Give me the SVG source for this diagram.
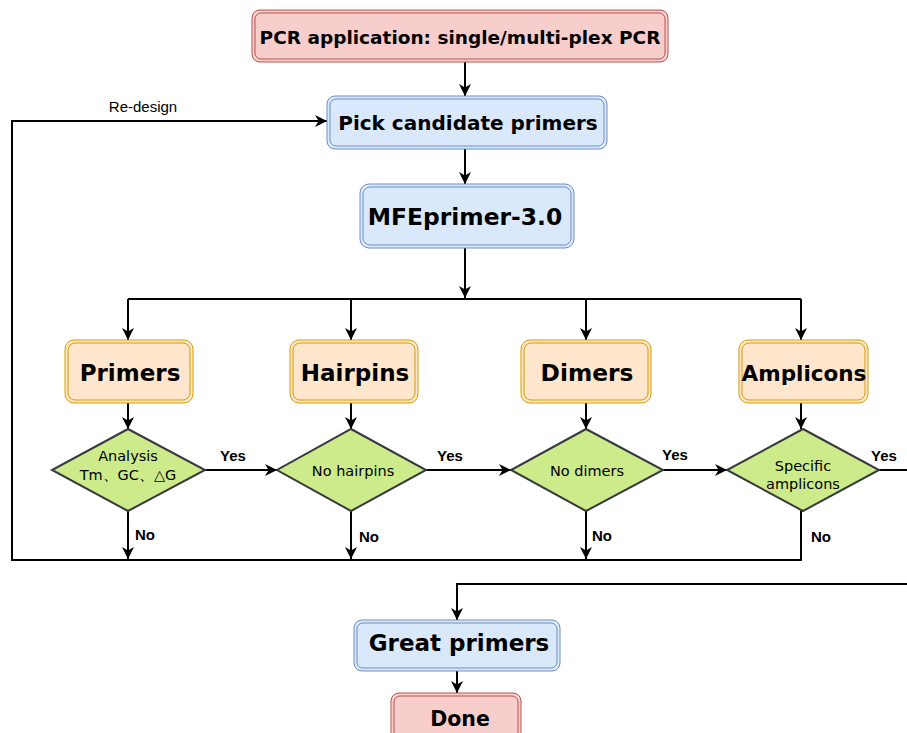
<svg xmlns="http://www.w3.org/2000/svg" width="907" height="733" viewBox="0 0 907 733">
<style>
.red{fill:#f8cecc;stroke:#b85450;stroke-width:1}
.redi{fill:none;stroke:#b85450;stroke-width:1}
.blue{fill:#dae8fc;stroke:#6c8ebf;stroke-width:1}
.bluei{fill:none;stroke:#6c8ebf;stroke-width:1}
.or{fill:#ffe6cc;stroke:#d79b00;stroke-width:1}
.ori{fill:none;stroke:#d79b00;stroke-width:1}
.dia{fill:#cdeb8b;stroke:#36393d;stroke-width:2}
.t{font-family:"DejaVu Sans",Verdana,sans-serif;font-weight:bold;text-anchor:middle;fill:#000}
.d{font-family:"DejaVu Sans",Verdana,sans-serif;font-size:14.5px;text-anchor:middle;fill:#000}
.l{font-family:"Liberation Sans",Arial,sans-serif;font-weight:bold;font-size:15px;fill:#000}
.e{fill:none;stroke:#000;stroke-width:2}
</style>
<defs>
<marker id="a" viewBox="0 0 10 10" refX="10" refY="5" markerWidth="12" markerHeight="12" orient="auto" markerUnits="userSpaceOnUse">
<path d="M0,0 L10,5 L0,10 L3,5 Z" fill="#000"/>
</marker>
</defs>
<g id="connectors">
<path class="e" d="M465,62 V96" marker-end="url(#a)"/>
<path class="e" d="M465,149 V184" marker-end="url(#a)"/>
<path class="e" d="M465,248 V298" marker-end="url(#a)"/>
<path class="e" d="M128,299 H801"/>
<path class="e" d="M128,299 V340" marker-end="url(#a)"/>
<path class="e" d="M351,299 V340" marker-end="url(#a)"/>
<path class="e" d="M586,299 V340" marker-end="url(#a)"/>
<path class="e" d="M801,299 V340" marker-end="url(#a)"/>
<path class="e" d="M128,403 V429" marker-end="url(#a)"/>
<path class="e" d="M351,403 V429" marker-end="url(#a)"/>
<path class="e" d="M586,403 V429" marker-end="url(#a)"/>
<path class="e" d="M801,403 V429" marker-end="url(#a)"/>
<path class="e" d="M205,470 H277" marker-end="url(#a)"/>
<path class="e" d="M426,470 H511" marker-end="url(#a)"/>
<path class="e" d="M663,470 H727" marker-end="url(#a)"/>
<path class="e" d="M879,470 H907"/>
<path class="e" d="M128,511 V559" marker-end="url(#a)"/>
<path class="e" d="M351,511 V559" marker-end="url(#a)"/>
<path class="e" d="M586,511 V559" marker-end="url(#a)"/>
<path class="e" d="M801,511 V560 H12 V121 H327" marker-end="url(#a)"/>
<path class="e" d="M907,584 H457 V620" marker-end="url(#a)"/>
<path class="e" d="M457,671 V693" marker-end="url(#a)"/>
<text x="143" y="112" style="font-family:'Liberation Sans',Arial,sans-serif;font-size:15px;text-anchor:middle">Re-design</text>
<text class="l" x="220" y="461">Yes</text>
<text class="l" x="437" y="461">Yes</text>
<text class="l" x="662" y="460">Yes</text>
<text class="l" x="871" y="461">Yes</text>
<text class="l" x="135" y="540">No</text>
<text class="l" x="359" y="542">No</text>
<text class="l" x="592" y="541">No</text>
<text class="l" x="811" y="542">No</text>
</g>
<g id="n-pcr">
<rect class="red" x="252" y="10" width="416" height="52" rx="8"/>
<rect class="redi" x="255" y="13" width="410" height="46" rx="6"/>
<text class="t" x="460" y="44" font-size="18.5">PCR application: single/multi-plex PCR</text>
</g>
<g id="n-pick">
<rect class="blue" x="327" y="96" width="280" height="53" rx="8"/>
<rect class="bluei" x="330" y="99" width="274" height="47" rx="6"/>
<text class="t" x="468" y="130" font-size="20">Pick candidate primers</text>
</g>
<g id="n-mfe">
<rect class="blue" x="360" y="184" width="214" height="64" rx="9"/>
<rect class="bluei" x="363" y="187" width="208" height="58" rx="7"/>
<text class="t" x="465" y="225" font-size="23.4">MFEprimer-3.0</text>
</g>
<g id="n-primers">
<rect class="or" x="65" y="340" width="128" height="63" rx="9"/>
<rect class="ori" x="68" y="343" width="122" height="57" rx="7"/>
<text class="t" x="130" y="381" font-size="23">Primers</text>
</g>
<g id="n-hairpins">
<rect class="or" x="290" y="340" width="128" height="63" rx="9"/>
<rect class="ori" x="293" y="343" width="122" height="57" rx="7"/>
<text class="t" x="355" y="381" font-size="23">Hairpins</text>
</g>
<g id="n-dimers">
<rect class="or" x="521" y="340" width="130" height="63" rx="9"/>
<rect class="ori" x="524" y="343" width="124" height="57" rx="7"/>
<text class="t" x="587" y="381" font-size="23.3">Dimers</text>
</g>
<g id="n-amplicons">
<rect class="or" x="739" y="340" width="129" height="63" rx="9"/>
<rect class="ori" x="742" y="343" width="123" height="57" rx="7"/>
<text class="t" x="804" y="381" font-size="21.5">Amplicons</text>
</g>
<g id="n-d1">
<path class="dia" d="M128,429 L205,470 L128,511 L52,470 Z"/>
<text class="d" x="128" y="461">Analysis</text>
<text class="d" x="128" y="480">Tm、GC、△G</text>
</g>
<g id="n-d2">
<path class="dia" d="M351,429 L426,470 L351,511 L277,470 Z"/>
<text class="d" x="353" y="476">No hairpins</text>
</g>
<g id="n-d3">
<path class="dia" d="M586,429 L663,470 L586,511 L511,470 Z"/>
<text class="d" x="587" y="476">No dimers</text>
</g>
<g id="n-d4">
<path class="dia" d="M803,429 L879,470 L803,511 L727,470 Z"/>
<text class="d" x="803" y="471">Specific</text>
<text class="d" x="803" y="489">amplicons</text>
</g>
<g id="n-great">
<rect class="blue" x="354" y="620" width="206" height="51" rx="8"/>
<rect class="bluei" x="357" y="623" width="200" height="45" rx="6"/>
<text class="t" x="459" y="651" font-size="23">Great primers</text>
</g>
<g id="n-done">
<rect class="red" x="391" y="693" width="130" height="48" rx="8"/>
<rect class="redi" x="394" y="696" width="124" height="42" rx="6"/>
<text class="t" x="460" y="726" font-size="20.5">Done</text>
</g>
</svg>
